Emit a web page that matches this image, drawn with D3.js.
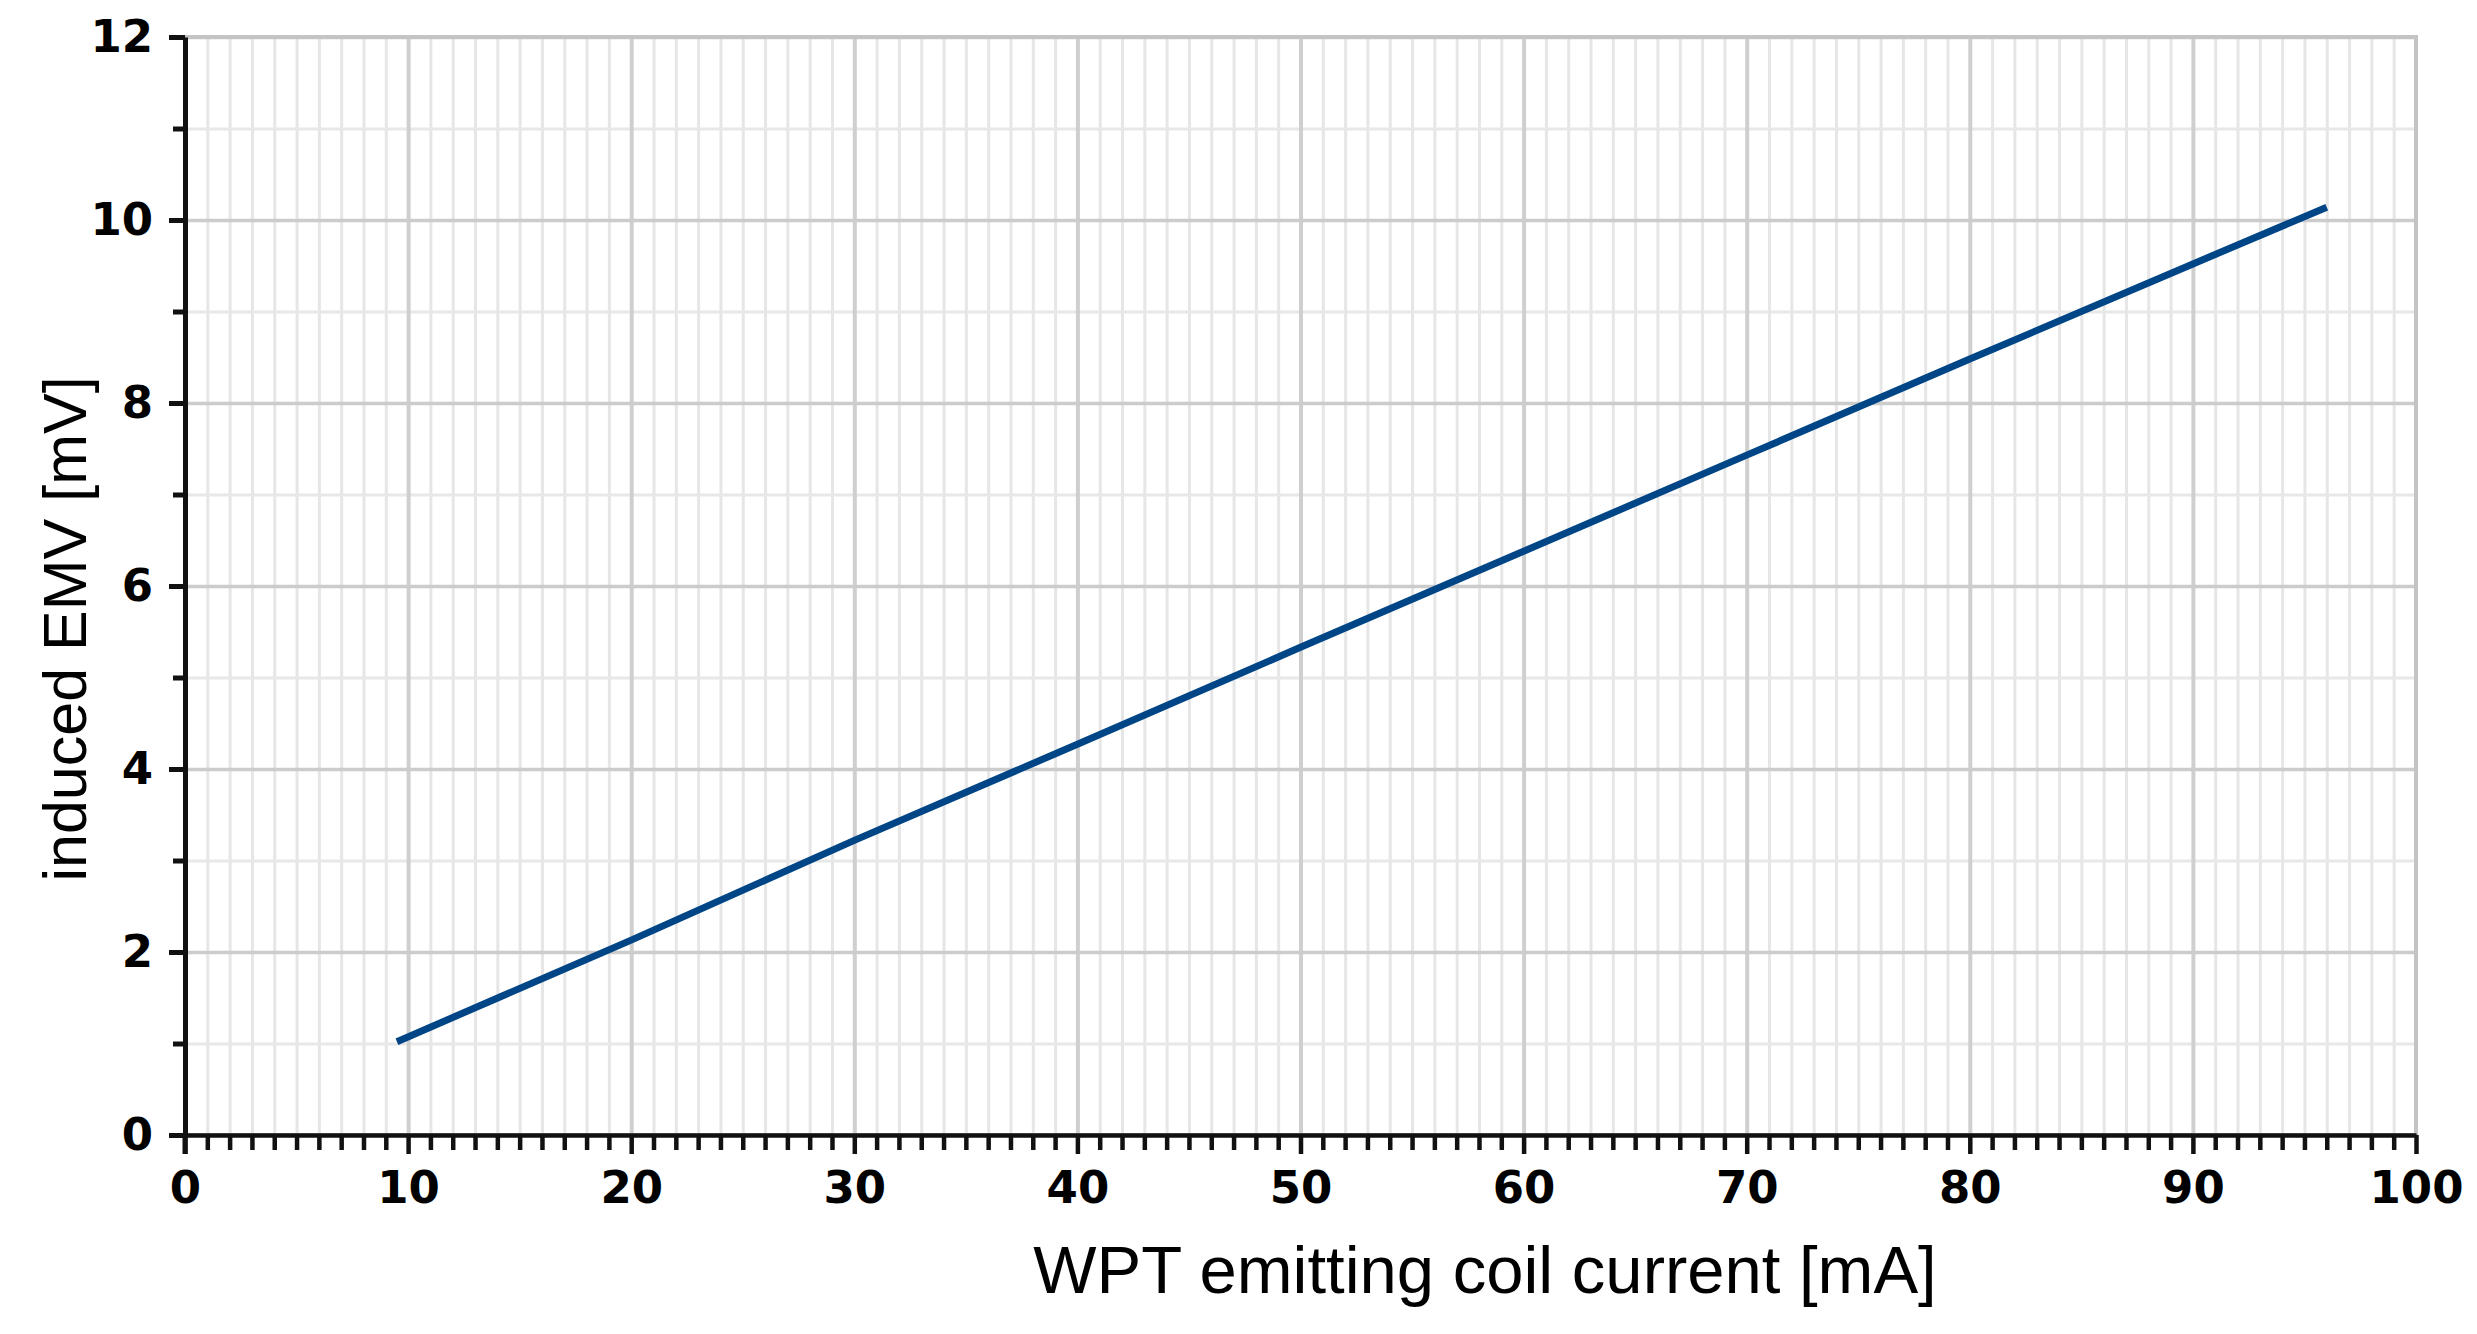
<!DOCTYPE html>
<html>
<head>
<meta charset="utf-8">
<script src="https://cdn.jsdelivr.net/npm/d3@7"></script>
<style>
  html, body { margin: 0; padding: 0; background: #fff; }
  svg { display: block; }
</style>
</head>
<body>
<svg id="chart" width="2477" height="1334"></svg>
<script>
// ---- data ----
const current = [9.5, 20, 30, 40, 50, 60, 70, 80, 90, 96];           // mA
const emv     = [1.02, 2.13, 3.22, 4.27, 5.33, 6.38, 7.43, 8.48, 9.52, 10.14]; // mV
const xTickLabels = [0, 10, 20, 30, 40, 50, 60, 70, 80, 90, 100];
const yTickLabels = [0, 2, 4, 6, 8, 10, 12];
const xMinorTicks = d3.range(0, 101, 1);
const yMinorTicks = d3.range(0, 13, 1);
const xTitle = "WPT emitting coil current [mA]";
const yTitle = "induced EMV [mV]";

// ---- layout ----
const svg = d3.select("#chart");
const L = 185, R = 2416, T = 37, B = 1135;
const x = d3.scaleLinear().domain([0, 100]).range([L, R]);
const y = d3.scaleLinear().domain([0, 12]).range([B, T]);

svg.append("rect").attr("width", 2477).attr("height", 1334).attr("fill", "#fff");

// minor vertical grid
svg.append("g").attr("transform", `translate(0,${B})`)
  .call(d3.axisBottom(x).tickValues(xMinorTicks.filter(v => v % 10 !== 0)).tickSize(-(B - T)).tickFormat(""))
  .call(g => g.select(".domain").remove())
  .call(g => g.selectAll("line").attr("stroke", "#e6e6e6").attr("stroke-width", 3));
// minor horizontal grid
svg.append("g").attr("transform", `translate(${L},0)`)
  .call(d3.axisLeft(y).tickValues(yMinorTicks.filter(v => v % 2 !== 0)).tickSize(-(R - L)).tickFormat(""))
  .call(g => g.select(".domain").remove())
  .call(g => g.selectAll("line").attr("stroke", "#e8e8e8").attr("stroke-width", 3));
// major vertical grid
svg.append("g").attr("transform", `translate(0,${B})`)
  .call(d3.axisBottom(x).tickValues(xTickLabels.filter(v => v > 0 && v < 100)).tickSize(-(B - T)).tickFormat(""))
  .call(g => g.select(".domain").remove())
  .call(g => g.selectAll("line").attr("stroke", "#cfcfcf").attr("stroke-width", 4));
// major horizontal grid
svg.append("g").attr("transform", `translate(${L},0)`)
  .call(d3.axisLeft(y).tickValues(yTickLabels.filter(v => v > 0)).tickSize(-(R - L)).tickFormat(""))
  .call(g => g.select(".domain").remove())
  .call(g => g.selectAll("line").attr("stroke", "#cccccc").attr("stroke-width", 3.5));

// plot border (gray)
svg.append("rect").attr("x", L).attr("y", T).attr("width", R - L).attr("height", B - T)
  .attr("fill", "none").attr("stroke", "#c4c4c4").attr("stroke-width", 4);

// data line
const line = d3.line().x((d, i) => x(current[i])).y((d, i) => y(emv[i]));
svg.append("path").datum(emv).attr("d", line)
  .attr("fill", "none").attr("stroke", "#004586").attr("stroke-width", 7)
  .attr("stroke-linejoin", "round");

// x axis minor ticks
svg.append("g").attr("transform", `translate(0,${B})`)
  .call(d3.axisBottom(x).tickValues(xMinorTicks.filter(v => v % 10 !== 0)).tickSize(15).tickFormat(""))
  .call(g => g.select(".domain").remove())
  .call(g => g.selectAll("line").attr("stroke", "#111").attr("stroke-width", 4.5));
// x axis major ticks + labels
svg.append("g").attr("transform", `translate(0,${B})`)
  .call(d3.axisBottom(x).tickValues(xTickLabels).tickSize(19).tickPadding(17).tickSizeOuter(0))
  .call(g => g.select(".domain").attr("stroke", "#111").attr("stroke-width", 4.5))
  .call(g => g.selectAll("line").attr("stroke", "#111").attr("stroke-width", 4.5))
  .call(g => g.selectAll("text").attr("font-family", "DejaVu Sans").attr("font-weight", "bold")
        .attr("font-size", 45).attr("fill", "#000"));

// y axis minor ticks
svg.append("g").attr("transform", `translate(${L},0)`)
  .call(d3.axisLeft(y).tickValues(yMinorTicks.filter(v => v % 2 !== 0)).tickSize(12).tickFormat(""))
  .call(g => g.select(".domain").remove())
  .call(g => g.selectAll("line").attr("stroke", "#111").attr("stroke-width", 5));
// y axis major ticks + labels
svg.append("g").attr("transform", `translate(${L},0)`)
  .call(d3.axisLeft(y).tickValues(yTickLabels).tickSize(16).tickPadding(16).tickSizeOuter(0))
  .call(g => g.select(".domain").attr("stroke", "#111").attr("stroke-width", 5))
  .call(g => g.selectAll("line").attr("stroke", "#111").attr("stroke-width", 5))
  .call(g => g.selectAll("text").attr("font-family", "DejaVu Sans").attr("font-weight", "bold")
        .attr("font-size", 45).attr("fill", "#000"));
// extend y axis line down to the x tick length
svg.append("line").attr("x1", L).attr("x2", L).attr("y1", y(0)).attr("y2", y(0) + 19)
  .attr("stroke", "#111").attr("stroke-width", 5);

// axis titles
svg.append("text").attr("x", 1485).attr("y", 1293).attr("text-anchor", "middle")
  .attr("font-family", "Liberation Sans, Arial, sans-serif").attr("font-size", 67).attr("fill", "#000")
  .text(xTitle);
svg.append("text").attr("transform", `translate(86,629) rotate(-90)`).attr("text-anchor", "middle")
  .attr("font-family", "Liberation Sans, Arial, sans-serif").attr("font-size", 61).attr("fill", "#000")
  .text(yTitle);
</script>
</body>
</html>
